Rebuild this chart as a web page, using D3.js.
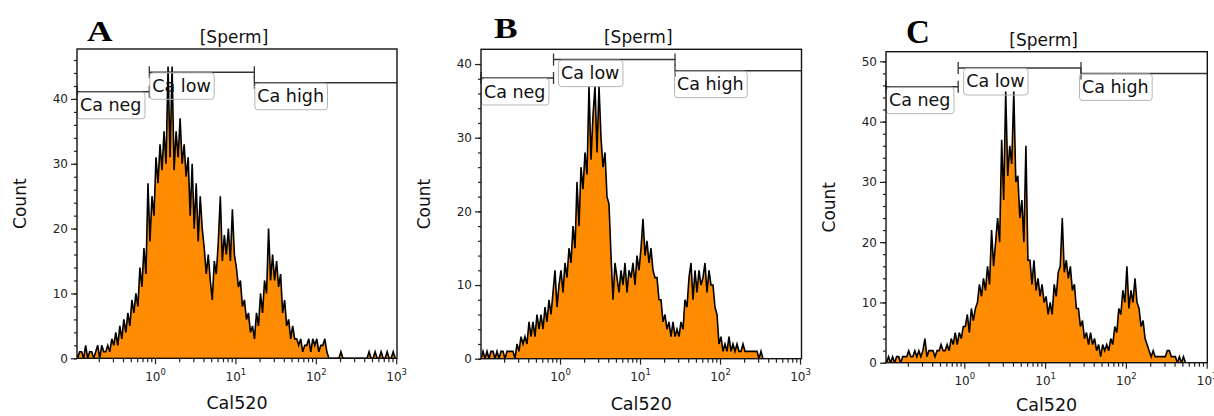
<!DOCTYPE html>
<html>
<head>
<meta charset="utf-8">
<script src="https://cdn.jsdelivr.net/npm/d3@7"></script>
<style>
  body { margin: 0; background: #fff; }
  svg { display: block; font-family: "DejaVu Sans", Verdana, sans-serif; }
</style>
</head>
<body>
<div id="chart"></div>
<script>
var svgWidth = 1214;
var svgHeight = 416;

// histogram bins: log10(Cal520) from -1 to 3, 0.025 decade per bin
var binStart = -1;
var binStep = 0.025;

var countsA = [
  1,0,1,1,0,2,0,1,  1,0,1,2,0,2,1,1,  2,1,3,2,4,2,5,3,  6,4,7,5,9,7,10,8,
  14,11,17,13,27,18,25,22,  31,27,33,29,35,30,45,31,  45,29,35,31,37,30,33,28,  31,22,30,20,27,18,25,20,
  17,13,16,12,9,15,13,18,  25,15,19,16,20,15,23,16,  14,11,12,8,9,6,7,4,  5,3,7,5,10,7,12,10,
  20,12,16,12,15,11,13,7,  9,5,6,3,5,3,3,2,  3,1,2,2,3,1,3,2,  3,1,2,2,3,1,0,0,
  0,0,0,0,1,0,0,0,  0,0,0,0,0,0,0,0,  0,0,1,0,0,1,0,0,  1,0,0,1,0,0,1,0
];

var countsB = [
  0,1,0,1,0,1,1,0,  1,0,1,1,0,1,1,1,  1,0,2,1,3,2,3,2,  5,3,5,3,6,4,6,4,
  7,5,8,6,9,12,7,10,  12,9,13,11,15,13,18,15,  24,18,26,23,28,25,37,27,  33,37,28,37,30,26,28,22,
  21,14,8,13,11,9,12,10,  13,9,12,11,13,10,14,12,  15,19,14,16,13,15,12,11,  11,8,8,5,6,4,5,3,
  5,3,4,3,5,4,8,7,  11,13,8,12,9,12,10,11,  13,9,12,10,10,7,6,2,  3,1,2,1,3,1,2,1,
  2,1,1,2,1,1,1,1,  1,1,1,0,1,0,0,0,  0,0,0,0,0,0,0,0,  0,0,0,0,0,0,0,0
];

var countsC = [
  1,0,1,0,1,0,1,1,  0,1,1,1,2,1,1,2,  1,2,1,2,4,1,2,2,  2,1,2,2,3,2,2,3,
  2,4,3,5,3,5,4,6,  6,8,5,9,7,9,10,13,  11,14,12,16,13,22,16,20,  24,20,37,27,45,31,36,33,
  45,30,31,24,27,20,36,17,  17,13,17,12,14,11,13,10,  11,8,10,8,13,11,15,16,  24,15,17,14,16,12,13,9,
  9,6,7,4,5,3,5,3,  4,2,3,1,3,2,3,2,  4,3,6,5,9,8,12,10,  16,9,12,10,14,10,9,6,
  7,4,3,2,1,2,1,1,  1,1,1,1,2,2,1,1,  1,0,1,0,1,0,0,0,  0,0,0,0,0,0,0,0
];

var gateNames = ["Ca neg", "Ca low", "Ca high"];
var gateEdgesA = [0.1, 0.85, 17.2, 1000];
var gateEdgesB = [0.1, 0.83, 27.4, 1000];
var gateEdgesC = [0.1, 0.84, 27.8, 1000];
var gateLevelsA = [41.1, 44.1, 42.5];
var gateLevelsB = [38.1, 40.6, 39.1];
var gateLevelsC = [45.8, 48.9, 48.0];

var xMajorTicks = [1, 10, 100, 1000];
var tickExponents = ["0", "1", "2", "3"];
var xMinorTicks = [0.2, 0.3, 0.4, 0.5, 0.6, 0.7, 0.8, 0.9,
  2, 3, 4, 5, 6, 7, 8, 9, 20, 30, 40, 50, 60, 70, 80, 90,
  200, 300, 400, 500, 600, 700, 800, 900];

var panels = [
  {letter: "A", counts: countsA, edges: gateEdgesA, levels: gateLevelsA, yMax: 47.7,
   x0: 155, decade: 80.4, left: 77, right: 397, top: 49, bottom: 358.3,
   letterX: 87, letterY: 41, letterSize: 29, letterSx: 1.22, labelDx: [0, 0, 0]},
  {letter: "B", counts: countsB, edges: gateEdgesB, levels: gateLevelsB, yMax: 42,
   x0: 560, decade: 80, left: 481, right: 801.5, top: 49.3, bottom: 358.7,
   letterX: 494, letterY: 38, letterSize: 29, letterSx: 1.22, labelDx: [0, 4.5, -1]},
  {letter: "C", counts: countsC, edges: gateEdgesC, levels: gateLevelsC, yMax: 51.6,
   x0: 964.3, decade: 80.8, left: 886, right: 1207.3, top: 51.7, bottom: 362.7,
   letterX: 906, letterY: 43, letterSize: 33, letterSx: 1.0, labelDx: [0, 5, -2]}
];

var svg = d3.select("#chart")
  .append("svg")
  .attr("width", svgWidth)
  .attr("height", svgHeight);

function drawPanel(p) {
  var g = svg.append("g");

  var x = d3.scaleLog()
    .domain([Math.pow(10, (p.left - p.x0) / p.decade), Math.pow(10, (p.right - p.x0) / p.decade)])
    .range([p.left, p.right]);
  var y = d3.scaleLinear()
    .domain([0, p.yMax])
    .range([p.bottom, p.top]);
  var dom = x.domain();

  // clip the histogram to the plot box
  var clipId = "clip" + p.letter;
  svg.append("clipPath").attr("id", clipId)
    .append("rect")
    .attr("x", p.left).attr("y", p.top)
    .attr("width", p.right - p.left).attr("height", p.bottom - p.top);

  var bins = p.counts.map(function(c, i) {
    return {v: Math.pow(10, binStart + binStep * (i + 0.5)), c: c};
  });

  var area = d3.area()
    .x(d => x(d.v))
    .y0(y(0))
    .y1(d => y(d.c));
  var line = d3.line()
    .x(d => x(d.v))
    .y(d => y(d.c));

  g.append("path")
    .datum(bins)
    .attr("d", area)
    .attr("fill", "#ff8c00")
    .attr("clip-path", "url(#" + clipId + ")");

  g.append("path")
    .datum(bins)
    .attr("d", line)
    .attr("fill", "none")
    .attr("stroke", "#000")
    .attr("stroke-width", 1.6)
    .attr("stroke-linejoin", "miter")
    .attr("clip-path", "url(#" + clipId + ")");

  // y axis, majors with labels, minors every 2
  var yMajor = g.append("g")
    .attr("transform", `translate(${p.left}, 0)`)
    .call(d3.axisLeft(y).tickValues(d3.range(0, p.yMax, 10)).tickSize(6).tickPadding(3));
  var yMinor = g.append("g")
    .attr("transform", `translate(${p.left}, 0)`)
    .call(d3.axisLeft(y).tickValues(d3.range(0, p.yMax, 2)).tickSize(3).tickFormat(""));

  // x axis
  var xMajor = g.append("g")
    .attr("transform", `translate(0, ${p.bottom})`)
    .call(d3.axisBottom(x).tickValues(xMajorTicks).tickSize(6).tickFormat(""));
  var xMinor = g.append("g")
    .attr("transform", `translate(0, ${p.bottom})`)
    .call(d3.axisBottom(x).tickValues(xMinorTicks.filter(v => v > dom[0])).tickSize(4).tickFormat(""));

  [yMajor, yMinor, xMajor, xMinor].forEach(function(a) {
    a.select(".domain").remove();
    a.selectAll("line").attr("stroke", "#222").attr("stroke-width", 1.2);
    a.selectAll("text").attr("font-family", "DejaVu Sans").attr("font-size", 12).attr("fill", "#222");
  });

  xMajor.selectAll("text")
    .attr("y", 22.5)
    .attr("dy", null)
    .each(function(d, i) {
      var t = d3.select(this);
      t.append("tspan").text("10");
      t.append("tspan").attr("font-size", 8.5).attr("dy", -6).text(tickExponents[i]);
    });

  // gates
  var gates = g.append("g");
  gateNames.forEach(function(name, k) {
    var x1 = x(Math.max(p.edges[k], dom[0]));
    var x2 = x(Math.min(p.edges[k + 1], dom[1]));
    var yy = y(p.levels[k]);
    var last = k === gateNames.length - 1;
    if (last) x2 = p.right;

    gates.append("line")
      .attr("x1", x1).attr("x2", x2).attr("y1", yy).attr("y2", yy)
      .attr("stroke", "#333").attr("stroke-width", 1.5);
    // end ticks, none where the last gate runs into the right edge
    var ends = last ? [x1] : [x1, x2];
    ends.forEach(function(xx) {
      gates.append("line")
        .attr("x1", xx).attr("x2", xx).attr("y1", yy - 6).attr("y2", yy + 6)
        .attr("stroke", "#333").attr("stroke-width", 1.3);
    });

    var bx = x1 + p.labelDx[k];
    var box = gates.append("rect");
    var label = gates.append("text")
      .attr("x", bx + 3)
      .attr("y", yy + 19.5)
      .attr("font-size", 17.5)
      .attr("fill", "#111")
      .text(name);
    var w = label.node().getComputedTextLength();
    box.attr("x", bx + 0.5).attr("y", yy + 0.5)
      .attr("width", w + 6).attr("height", 26.5)
      .attr("rx", 3)
      .attr("fill", "none")
      .attr("stroke", "#b5b5b5")
      .attr("stroke-width", 1);
  });

  // plot frame
  g.append("rect")
    .attr("x", p.left).attr("y", p.top)
    .attr("width", p.right - p.left).attr("height", p.bottom - p.top)
    .attr("fill", "none")
    .attr("stroke", "#111")
    .attr("stroke-width", 1.4);

  // titles
  g.append("text")
    .attr("x", (p.left + p.right) / 2 - 3)
    .attr("y", p.top - 6)
    .attr("text-anchor", "middle")
    .attr("font-size", 17)
    .attr("fill", "#111")
    .text("[Sperm]");

  g.append("text")
    .attr("x", (p.left + p.right) / 2)
    .attr("y", Math.min(p.bottom + 51, 411))
    .attr("text-anchor", "middle")
    .attr("font-size", 17.5)
    .attr("fill", "#111")
    .text("Cal520");

  g.append("text")
    .attr("transform", `translate(${p.left - 51}, ${(p.top + p.bottom) / 2}) rotate(-90)`)
    .attr("text-anchor", "middle")
    .attr("font-size", 17)
    .attr("fill", "#111")
    .text("Count");

  g.append("text")
    .attr("transform", `translate(${p.letterX}, ${p.letterY}) scale(${p.letterSx}, 1)`)
    .attr("font-family", "Liberation Serif, Times New Roman, serif")
    .attr("font-weight", "bold")
    .attr("font-size", p.letterSize)
    .attr("fill", "#000")
    .text(p.letter);
}

panels.forEach(drawPanel);
</script>
</body>
</html>
